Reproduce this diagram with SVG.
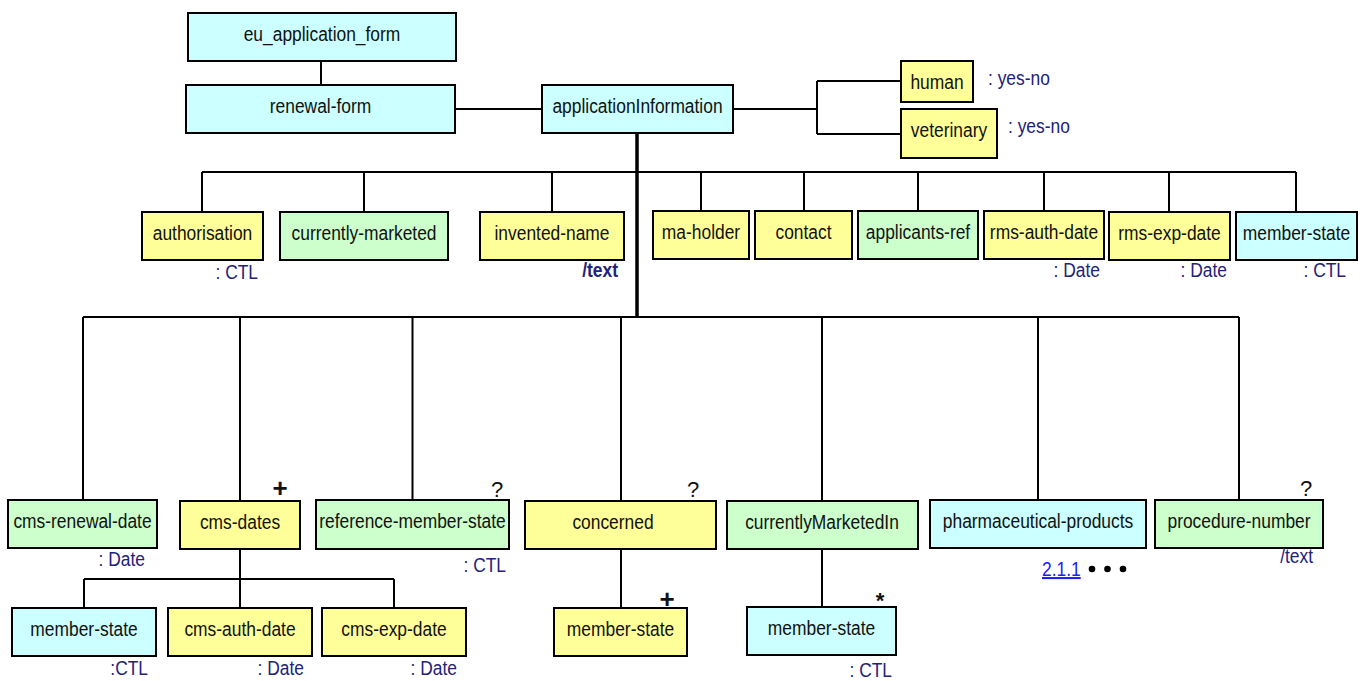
<svg xmlns="http://www.w3.org/2000/svg" width="1365" height="681" viewBox="0 0 1365 681">
<style>
  .bx{stroke:#000;stroke-width:2}
  .cy{fill:#ccffff}
  .ye{fill:#ffff99}
  .gr{fill:#ccffcc}
  .t{font-family:"Liberation Sans",Arial,sans-serif;font-size:20px;fill:#111;text-anchor:middle}
  .lb{font-family:"Liberation Sans",Arial,sans-serif;font-size:20px;fill:#22227a;text-anchor:end}
  .lbs{font-family:"Liberation Sans",Arial,sans-serif;font-size:20px;fill:#22227a;text-anchor:start}
  .mk{font-family:"Liberation Sans",Arial,sans-serif;font-size:22px;fill:#111;text-anchor:middle}
  .pl{font-family:"Liberation Sans",Arial,sans-serif;font-size:26px;font-weight:bold;fill:#111;text-anchor:middle}
  .ln{fill:none;stroke:#000;stroke-width:2}
  .lnk{font-family:"Liberation Sans",Arial,sans-serif;font-size:20px;fill:#1a1aff;text-decoration:underline}
</style>
<rect width="1365" height="681" fill="#fff"/>
<g id="connectors">
  <path class="ln" d="M321,61V85M455,109H542M733,109H817M817,81V134M817,81H901M817,134H901"/>
  <path class="ln" d="M202,172H1296M202,172V212M364,172V212M552,172V212M701,172V211M804,172V211M918,172V211M1044,172V211M1169,172V212M1296,172V212"/>
  <path class="ln" d="M83,317H1239M83,317V500M240,317V501M412.5,317V500M621,317V501M822,317V501M1038,317V500M1239,317V500"/>
  <path class="ln" d="M240,549V608M84,579H394M84,579V608M394,579V608M621,549V608M822,549V607"/>
  <path class="ln" d="M637,133V317" style="stroke-width:3.5"/>
</g>
<g id="n-eu"><rect class="bx cy" x="188" y="13" width="268" height="48"/><text class="t" transform="translate(322,41) scale(0.87,1)">eu_application_form</text></g>
<g id="n-renewal"><rect class="bx cy" x="186" y="85" width="269" height="48"/><text class="t" transform="translate(320.5,113) scale(0.87,1)">renewal-form</text></g>
<g id="n-appinfo"><rect class="bx cy" x="542" y="85" width="191" height="48"/><text class="t" transform="translate(637.5,113) scale(0.87,1)">applicationInformation</text></g>
<g id="n-human"><rect class="bx ye" x="901" y="61" width="72" height="41"/><text class="t" transform="translate(937,89) scale(0.87,1)">human</text><text class="lbs" transform="translate(988,85) scale(0.87,1)">: yes-no</text></g>
<g id="n-veterinary"><rect class="bx ye" x="901" y="109" width="96" height="49"/><text class="t" transform="translate(949,137) scale(0.87,1)">veterinary</text><text class="lbs" transform="translate(1008,133) scale(0.87,1)">: yes-no</text></g>

<g id="n-authorisation"><rect class="bx ye" x="142" y="212" width="121" height="48"/><text class="t" transform="translate(202.5,240) scale(0.87,1)">authorisation</text><text class="lb" transform="translate(258,279) scale(0.87,1)">: CTL</text></g>
<g id="n-currently-marketed"><rect class="bx gr" x="280" y="212" width="168" height="48"/><text class="t" transform="translate(364,240) scale(0.87,1)">currently-marketed</text></g>
<g id="n-invented-name"><rect class="bx ye" x="480" y="212" width="144" height="48"/><text class="t" transform="translate(552,240) scale(0.87,1)">invented-name</text><text class="lb" transform="translate(618,277) scale(0.87,1)" font-weight="bold">/text</text></g>
<g id="n-ma-holder"><rect class="bx ye" x="653" y="211" width="96" height="48"/><text class="t" transform="translate(701,239) scale(0.87,1)">ma-holder</text></g>
<g id="n-contact"><rect class="bx ye" x="755" y="211" width="97" height="48"/><text class="t" transform="translate(803.5,239) scale(0.87,1)">contact</text></g>
<g id="n-applicants-ref"><rect class="bx gr" x="858" y="211" width="120" height="48"/><text class="t" transform="translate(918,239) scale(0.87,1)">applicants-ref</text></g>
<g id="n-rms-auth-date"><rect class="bx ye" x="984" y="211" width="120" height="48"/><text class="t" transform="translate(1044,239) scale(0.87,1)">rms-auth-date</text><text class="lb" transform="translate(1100,277) scale(0.87,1)">: Date</text></g>
<g id="n-rms-exp-date"><rect class="bx ye" x="1109" y="212" width="121" height="48"/><text class="t" transform="translate(1169.5,240) scale(0.87,1)">rms-exp-date</text><text class="lb" transform="translate(1227,277) scale(0.87,1)">: Date</text></g>
<g id="n-member-state-1"><rect class="bx cy" x="1236" y="212" width="121" height="48"/><text class="t" transform="translate(1296.5,240) scale(0.87,1)">member-state</text><text class="lb" transform="translate(1346,277) scale(0.87,1)">: CTL</text></g>

<g id="n-cms-renewal-date"><rect class="bx gr" x="8" y="500" width="149" height="48"/><text class="t" transform="translate(82.5,528) scale(0.87,1)">cms-renewal-date</text><text class="lb" transform="translate(145,566) scale(0.87,1)">: Date</text></g>
<g id="n-cms-dates"><rect class="bx ye" x="180" y="501" width="120" height="48"/><text class="t" transform="translate(240,529) scale(0.87,1)">cms-dates</text><text class="pl" x="280" y="497">+</text></g>
<g id="n-reference-member-state"><rect class="bx gr" x="316" y="500" width="193" height="49"/><text class="t" transform="translate(412.5,528) scale(0.87,1)">reference-member-state</text><text class="mk" x="497" y="497">?</text><text class="lb" transform="translate(506,572) scale(0.87,1)">: CTL</text></g>
<g id="n-concerned"><rect class="bx ye" x="525" y="501" width="191" height="48"/><text class="t" transform="translate(613,529) scale(0.87,1)">concerned</text><text class="mk" x="693" y="497">?</text></g>
<g id="n-currentlyMarketedIn"><rect class="bx gr" x="727" y="501" width="191" height="48"/><text class="t" transform="translate(822,529) scale(0.87,1)">currentlyMarketedIn</text></g>
<g id="n-pharmaceutical-products"><rect class="bx cy" x="930" y="500" width="216" height="48"/><text class="t" transform="translate(1038,528) scale(0.87,1)">pharmaceutical-products</text><text class="lnk" transform="translate(1042,576) scale(0.87,1)">2.1.1</text><circle cx="1092" cy="569" r="3.3"/><circle cx="1107.5" cy="569" r="3.3"/><circle cx="1123" cy="569" r="3.3"/></g>
<g id="n-procedure-number"><rect class="bx gr" x="1155" y="500" width="168" height="48"/><text class="t" transform="translate(1239,528) scale(0.87,1)">procedure-number</text><text class="mk" x="1306" y="496">?</text><text class="lb" transform="translate(1313,563) scale(0.87,1)">/text</text></g>

<g id="n-member-state-2"><rect class="bx cy" x="12" y="608" width="144" height="48"/><text class="t" transform="translate(84,636) scale(0.87,1)">member-state</text><text class="lb" transform="translate(148,675) scale(0.87,1)">:CTL</text></g>
<g id="n-cms-auth-date"><rect class="bx ye" x="168" y="608" width="144" height="48"/><text class="t" transform="translate(240,636) scale(0.87,1)">cms-auth-date</text><text class="lb" transform="translate(304,675) scale(0.87,1)">: Date</text></g>
<g id="n-cms-exp-date"><rect class="bx ye" x="322" y="608" width="144" height="48"/><text class="t" transform="translate(394,636) scale(0.87,1)">cms-exp-date</text><text class="lb" transform="translate(457,675) scale(0.87,1)">: Date</text></g>
<g id="n-member-state-3"><rect class="bx ye" x="554" y="608" width="133" height="48"/><text class="t" transform="translate(620.5,636) scale(0.87,1)">member-state</text><text class="pl" x="667" y="608">+</text></g>
<g id="n-member-state-4"><rect class="bx cy" x="747" y="607" width="149" height="48"/><text class="t" transform="translate(821.5,635) scale(0.87,1)">member-state</text><text class="mk" x="880" y="608" font-weight="bold" font-size="20">*</text><text class="lb" transform="translate(892,677) scale(0.87,1)">: CTL</text></g>
</svg>
